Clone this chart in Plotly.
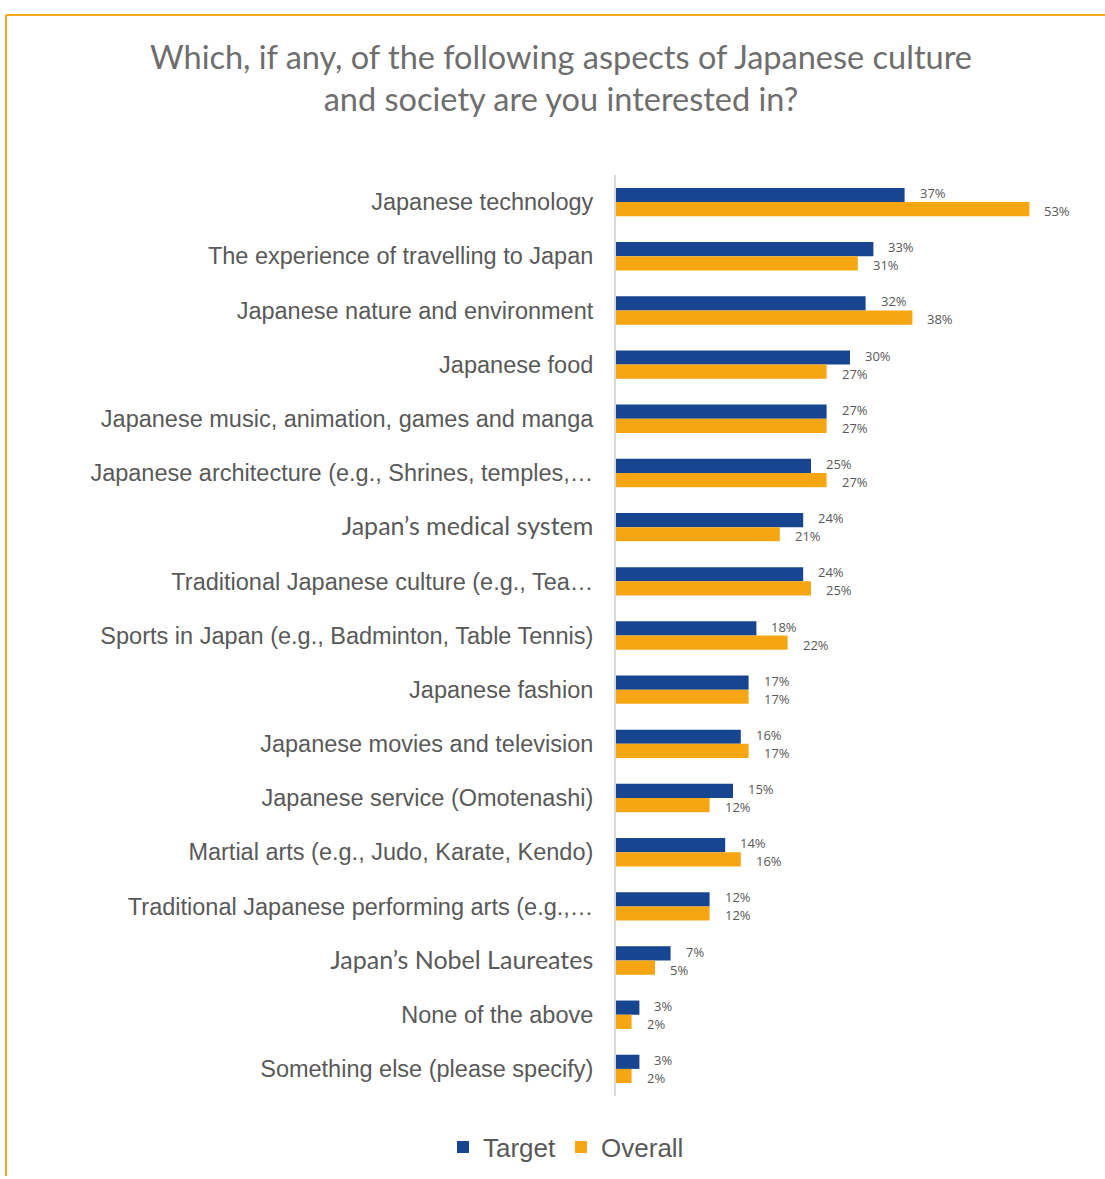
import plotly.graph_objects as go

categories = [
    "Japanese technology",
    "The experience of travelling to Japan",
    "Japanese nature and environment",
    "Japanese food",
    "Japanese music, animation, games and manga",
    "Japanese architecture (e.g., Shrines, temples,…",
    "Japan’s medical system",
    "Traditional Japanese culture (e.g., Tea…",
    "Sports in Japan (e.g., Badminton, Table Tennis)",
    "Japanese fashion",
    "Japanese movies and television",
    "Japanese service (Omotenashi)",
    "Martial arts (e.g., Judo, Karate, Kendo)",
    "Traditional Japanese performing arts (e.g.,…",
    "Japan’s Nobel Laureates",
    "None of the above",
    "Something else (please specify)",
]
target = [37, 33, 32, 30, 27, 25, 24, 24, 18, 17, 16, 15, 14, 12, 7, 3, 3]
overall = [53, 31, 38, 27, 27, 27, 21, 25, 22, 17, 17, 12, 16, 12, 5, 2, 2]
series_names = ["Target", "Overall"]
colors = ["#17458F", "#F6A612"]
alt_font_labels = {"Japan’s medical system", "Japan’s Nobel Laureates"}

W, H = 1105, 1179
ML, MR, MT, MB = 616, 60, 175, 83
XMAX = 55

def tick_text(c):
    if c in alt_font_labels:
        return f'<span style="font-family:Lato;font-size:25px;">{c}</span>'
    return c

fig = go.Figure()
for name, vals, col in zip(series_names, [target, overall], colors):
    fig.add_trace(go.Bar(
        y=categories, x=vals, name=name, orientation="h",
        marker=dict(color=col, line=dict(width=0)),
    ))

# data labels, placed from the data values
label_font = dict(family="Open Sans", size=13, color="#595959")
for vals, yshift in zip([target, overall], [9, -9]):
    for c, v in zip(categories, vals):
        fig.add_annotation(x=v, y=c, text=f"{v}%", showarrow=False,
                           xanchor="left", yanchor="middle",
                           xshift=14, yshift=yshift, font=label_font,
                           borderpad=0)

pw = W - ML - MR
ph = H - MT - MB
def px_to_paper_x(px):
    return (px - ML) / pw
def py_to_paper_y(py):
    return 1 - (py - MT) / ph

orange_line = "#F5A81E"
fig.add_shape(type="line", xref="paper", yref="paper",
              x0=px_to_paper_x(6), x1=px_to_paper_x(1105),
              y0=py_to_paper_y(15), y1=py_to_paper_y(15),
              line=dict(color=orange_line, width=2))
fig.add_shape(type="line", xref="paper", yref="paper",
              x0=px_to_paper_x(6), x1=px_to_paper_x(6),
              y0=py_to_paper_y(15), y1=py_to_paper_y(1176),
              line=dict(color=orange_line, width=2))

fig.update_layout(
    width=W, height=H,
    margin=dict(l=ML, r=MR, t=MT, b=MB, autoexpand=False),
    paper_bgcolor="white", plot_bgcolor="white",
    barmode="group", bargap=0.476, bargroupgap=0,
    title=dict(
        text="Which, if any, of the following aspects of Japanese culture<br>and society are you interested in?",
        font=dict(family="Lato", size=32.5, color="#6E6E6E"),
        x=561 / W, xref="container", xanchor="center",
        y=1 - 69 / H, yref="container", yanchor="top",
    ),
    legend=dict(
        orientation="h", xref="container", yref="container",
        x=566 / W, xanchor="center", y=1 - 1147 / H, yanchor="middle",
        font=dict(family="Liberation Sans", size=26, color="#595959"),
        itemwidth=30, traceorder="normal",
    ),
    xaxis=dict(range=[0, XMAX], visible=False, showgrid=False, zeroline=False),
    yaxis=dict(
        autorange="reversed", type="category",
        tickmode="array", tickvals=categories,
        ticktext=[tick_text(c) for c in categories],
        tickfont=dict(family="Liberation Sans", size=23.5, color="#595959"),
        showline=True, linecolor="#D9D9D9", linewidth=2,
        ticks="", ticklabelstandoff=16, showgrid=False,
    ),
    font=dict(family="Liberation Sans"),
    showlegend=True,
)

fig.write_html("out.html", config={"displayModeBar": False},
               post_script="document.body.style.margin='0';document.body.style.padding='0';")
